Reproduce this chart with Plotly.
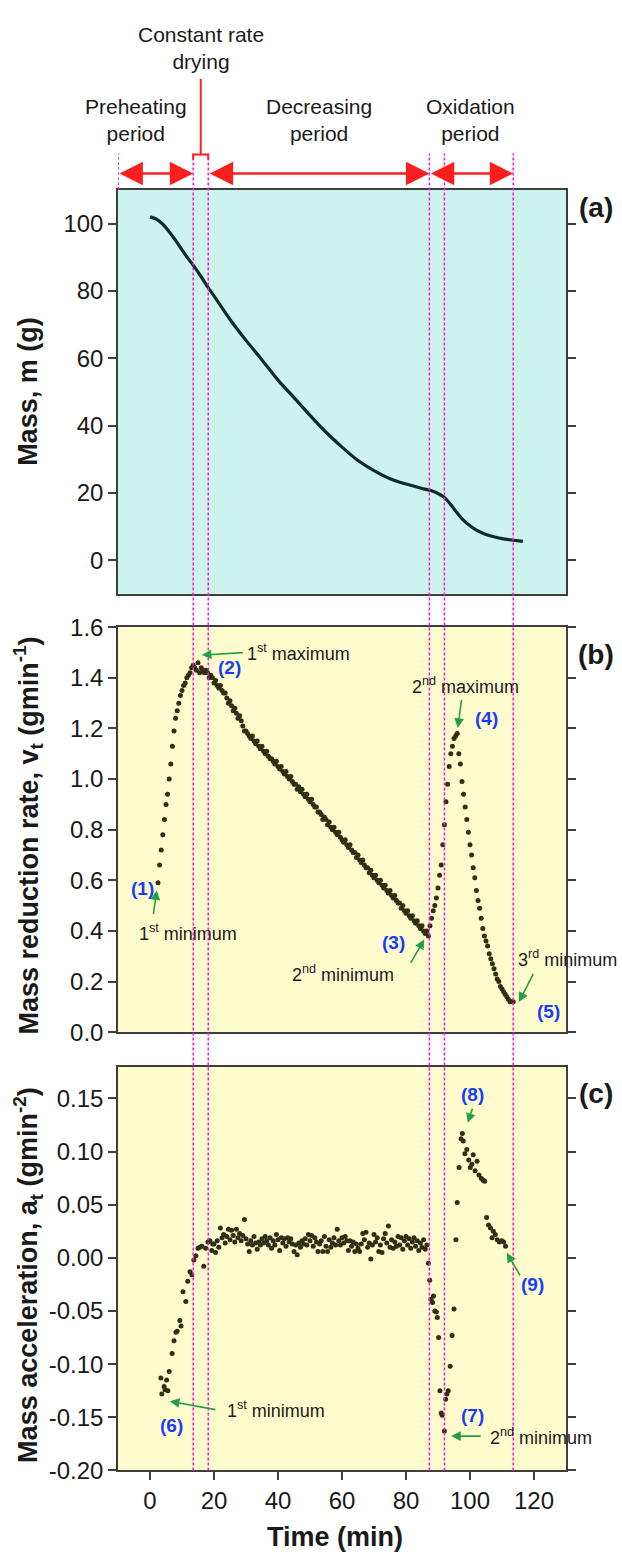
import plotly.graph_objects as go

# ---------------- data ----------------
# (a) sample mass during the run
mass_time = [0, 2, 4, 6, 8, 10, 12, 14, 16, 18, 20, 25, 30, 35, 40, 45, 50, 55, 60,
             65, 70, 75, 80, 85, 88, 90, 92, 94, 96, 98, 100, 102, 104, 106, 108,
             110, 113, 116.5]
mass_value = [102.0, 101.3, 99.8, 97.6, 95.0, 92.2, 89.5, 87.0, 84.2, 81.2, 78.5,
              71.5, 65.3, 59.5, 53.5, 48.3, 43.0, 38.0, 33.6, 29.6, 26.6, 24.2,
              22.6, 21.3, 20.6, 19.8, 18.6, 16.5, 14.0, 11.8, 10.2, 8.9, 8.0, 7.3,
              6.8, 6.4, 6.0, 5.6]

# (b) mass reduction rate
rate_time = [
    2.5, 3.0, 3.5, 4.0, 4.5, 5.0, 5.5, 6.0, 6.5, 7.0,
    7.5, 8.0, 8.5, 9.0, 9.5, 10.0, 10.5, 11.0, 11.5, 12.0,
    12.5, 13.0, 13.5, 14.0, 14.5, 15.0, 15.5, 16.0, 16.5, 17.0,
    17.5,
    18.0, 18.5, 19.0, 19.5, 20.0, 20.5, 21.0, 21.5, 22.0, 22.5,
    23.0, 23.5, 24.0, 24.5, 25.0, 25.5, 26.0, 26.5, 27.0, 27.5,
    28.0, 28.5, 29.0, 29.5, 30.0, 30.5, 31.0, 31.5, 32.0, 32.5,
    33.0, 33.5, 34.0, 34.5, 35.0, 35.5, 36.0, 36.5, 37.0, 37.5,
    38.0, 38.5, 39.0, 39.5, 40.0, 40.5, 41.0, 41.5, 42.0, 42.5,
    43.0, 43.5, 44.0, 44.5, 45.0, 45.5, 46.0, 46.5, 47.0, 47.5,
    48.0, 48.5, 49.0, 49.5, 50.0, 50.5, 51.0, 51.5, 52.0, 52.5,
    53.0, 53.5, 54.0, 54.5, 55.0, 55.5, 56.0, 56.5, 57.0, 57.5,
    58.0, 58.5, 59.0, 59.5, 60.0, 60.5, 61.0, 61.5, 62.0, 62.5,
    63.0, 63.5, 64.0, 64.5, 65.0, 65.5, 66.0, 66.5, 67.0, 67.5,
    68.0, 68.5, 69.0, 69.5, 70.0, 70.5, 71.0, 71.5, 72.0, 72.5,
    73.0, 73.5, 74.0, 74.5, 75.0, 75.5, 76.0, 76.5, 77.0, 77.5,
    78.0, 78.5, 79.0, 79.5, 80.0, 80.5, 81.0, 81.5, 82.0, 82.5,
    83.0, 83.5, 84.0, 84.5, 85.0, 85.5, 86.0, 86.5, 87.0,
    87.5, 88.0, 88.5, 89.0, 89.5, 90.0, 90.5, 91.0, 91.5, 92.0,
    92.5, 93.0, 93.5, 94.0, 94.5, 95.0, 95.5, 96.0,
    96.5, 97.0, 97.5, 98.0, 98.5, 99.0, 99.5, 100.0, 100.5, 101.0,
    101.5, 102.0, 102.5, 103.0, 103.5, 104.0, 104.5, 105.0, 105.5, 106.0,
    106.5, 107.0, 107.5, 108.0, 108.5, 109.0, 109.5, 110.0, 110.5, 111.0,
    111.5, 112.0, 112.5, 113.0, 113.5,
]
rate_value = [
    0.59, 0.66, 0.72, 0.78, 0.84, 0.90, 0.94, 1.00, 1.06, 1.13,
    1.19, 1.24, 1.27, 1.30, 1.33, 1.35, 1.37, 1.38, 1.40, 1.41,
    1.42, 1.44, 1.45, 1.44, 1.43, 1.46, 1.42, 1.44, 1.43, 1.42,
    1.43,
    1.42, 1.40, 1.41, 1.40, 1.38, 1.39, 1.37, 1.36, 1.37, 1.35,
    1.34, 1.34, 1.32, 1.30, 1.31, 1.29, 1.27, 1.28, 1.26, 1.24,
    1.25, 1.23, 1.21, 1.19, 1.19, 1.18, 1.17, 1.16, 1.17, 1.15,
    1.14, 1.15, 1.13, 1.12, 1.13, 1.11, 1.10, 1.11, 1.09, 1.08,
    1.08, 1.07, 1.06, 1.07, 1.05, 1.04, 1.05, 1.03, 1.02, 1.03,
    1.01, 1.00, 1.01, 0.99, 0.98, 0.98, 0.96, 0.97, 0.95, 0.96,
    0.94, 0.93, 0.94, 0.92, 0.91, 0.92, 0.90, 0.89, 0.89, 0.87,
    0.87, 0.86, 0.84, 0.85, 0.84, 0.82, 0.83, 0.81, 0.80, 0.81,
    0.79, 0.78, 0.79, 0.77, 0.76, 0.75, 0.76, 0.74, 0.73, 0.74,
    0.72, 0.71, 0.71, 0.69, 0.70, 0.68, 0.67, 0.68, 0.66, 0.65,
    0.65, 0.63, 0.64, 0.62, 0.61, 0.62, 0.60, 0.59, 0.60, 0.58,
    0.57, 0.58, 0.56, 0.55, 0.56, 0.54, 0.53, 0.54, 0.52, 0.51,
    0.51, 0.49, 0.50, 0.48, 0.47, 0.48, 0.46, 0.45, 0.46, 0.44,
    0.43, 0.44, 0.42, 0.41, 0.42, 0.40, 0.39, 0.40, 0.38,
    0.42, 0.45, 0.48, 0.50, 0.53, 0.57, 0.62, 0.66, 0.74, 0.82,
    0.91, 0.98, 1.05, 1.10, 1.13, 1.16, 1.17, 1.18,
    1.10, 1.06, 0.99, 0.94, 0.89, 0.84, 0.79, 0.74, 0.70, 0.65,
    0.61, 0.56, 0.52, 0.49, 0.45, 0.41, 0.38, 0.36, 0.34, 0.31,
    0.29, 0.27, 0.25, 0.23, 0.21, 0.20, 0.18, 0.17, 0.16, 0.15,
    0.14, 0.13, 0.12, 0.12, 0.12,
]

# (c) mass acceleration
accel_time = [
    3.4, 3.7, 4.4, 4.7, 5.2, 5.6, 6.0, 6.9, 7.5, 8.1,
    8.5, 9.3, 9.7, 10.3, 11.2, 11.8, 12.5, 13.1, 13.7, 14.3,
    15.0, 15.6, 16.2, 16.8, 17.4, 18.1, 18.7, 19.3, 19.6,
    20.0, 20.5, 21.0, 21.5, 22.0, 22.5, 23.0, 23.5, 24.0, 24.5,
    25.0, 25.5, 26.0, 26.5, 27.0, 27.5, 28.0, 28.5, 29.0, 29.5,
    30.0, 30.5, 31.0, 31.5, 32.0, 32.5, 33.0, 33.5, 34.0, 34.5,
    35.0, 35.5, 36.0, 36.5, 37.0, 37.5, 38.0, 38.5, 39.0, 39.5,
    40.0, 40.5, 41.0, 41.5, 42.0, 42.5, 43.0, 43.5, 44.0, 44.5,
    45.0, 45.5, 46.0, 46.5, 47.0, 47.5, 48.0, 48.5, 49.0, 49.5,
    50.0, 50.5, 51.0, 51.5, 52.0, 52.5, 53.0, 53.5, 54.0, 54.5,
    55.0, 55.5, 56.0, 56.5, 57.0, 57.5, 58.0, 58.5, 59.0, 59.5,
    60.0, 60.5, 61.0, 61.5, 62.0, 62.5, 63.0, 63.5, 64.0, 64.5,
    65.0, 65.5, 66.0, 66.5, 67.0, 67.5, 68.0, 68.5, 69.0, 69.5,
    70.0, 70.5, 71.0, 71.5, 72.0, 72.5, 73.0, 73.5, 74.0, 74.5,
    75.0, 75.5, 76.0, 76.5, 77.0, 77.5, 78.0, 78.5, 79.0, 79.5,
    80.0, 80.5, 81.0, 81.5, 82.0, 82.5, 83.0, 83.5, 84.0, 84.5,
    85.0, 85.5, 86.0, 86.5,
    87.0, 87.4, 87.8, 88.3, 88.6, 89.0, 89.5, 89.8, 90.2, 90.6,
    91.0, 91.3, 92.0, 92.4, 92.8, 93.2, 93.8, 94.4, 95.0, 95.6,
    96.0, 96.6, 97.2, 97.6, 97.9, 98.4, 99.0, 99.6, 100.1, 100.6,
    101.0, 101.6, 102.2, 102.8, 103.5, 104.1, 104.6, 105.2, 105.8, 106.4,
    106.9, 107.3, 107.9, 108.5, 109.2, 109.9, 110.5, 111.1,
]
accel_value = [
    -0.113, -0.128, -0.121, -0.124, -0.115, -0.125, -0.107, -0.090, -0.078, -0.070,
    -0.069, -0.059, -0.064, -0.032, -0.041, -0.022, -0.013, -0.016, -0.002, 0.002,
    0.009, 0.010, 0.011, -0.008, 0.009, 0.015, 0.016, 0.007, 0.013,
    0.013, 0.005, 0.016, 0.010, 0.028, 0.019, 0.022, 0.014, 0.020, 0.027,
    0.017, 0.026, 0.021, 0.015, 0.027, 0.019, 0.023, 0.016, 0.021, 0.036,
    0.018, 0.013, 0.006, 0.016, 0.012, 0.020, 0.014, 0.008, 0.015, 0.012,
    0.018, 0.014, 0.020, 0.016, 0.012, 0.019, 0.009, 0.016, 0.012, 0.022,
    0.017, 0.007, 0.019, 0.014, 0.018, 0.011, 0.019, 0.015, 0.018, 0.013,
    0.006, 0.012, 0.003, 0.014, 0.010, 0.016, 0.013, 0.018, 0.012, 0.022,
    0.016, 0.021, 0.011, 0.019, 0.015, 0.006, 0.013, 0.016, 0.006, 0.020,
    0.011, 0.006, 0.017, 0.010, 0.014, 0.019, 0.012, 0.027, 0.016, 0.012,
    0.019, 0.014, 0.020, 0.016, 0.007, 0.016, 0.011, 0.015, 0.006, 0.013,
    0.009, 0.006, 0.013, 0.023, 0.017, 0.024, 0.010, 0.014, -0.001, 0.012,
    0.022, 0.015, 0.019, 0.006, 0.012, 0.005, 0.018, 0.023, 0.014, 0.030,
    0.010, 0.017, 0.009, 0.015, 0.011, 0.020, 0.012, 0.019, 0.008, 0.016,
    0.020, 0.012, 0.018, 0.009, 0.015, 0.019, 0.011, 0.016, 0.007, 0.014,
    0.010, 0.017, 0.008, 0.012,
    -0.005, -0.021, -0.039, -0.042, -0.036, -0.050, -0.051, -0.056, -0.075, -0.125,
    -0.146, -0.148, -0.163, -0.133, -0.128, -0.125, -0.102, -0.073, -0.048, 0.017,
    0.052, 0.085, 0.112, 0.117, 0.110, 0.098, 0.102, 0.092, 0.085, 0.088,
    0.097, 0.082, 0.091, 0.078, 0.075, 0.073, 0.072, 0.038, 0.031, 0.028,
    0.019, 0.025, 0.022, 0.017, 0.015, 0.016, 0.015, 0.011,
]

# boundaries between drying stages (min)
stage_bounds = [13.5, 18.2, 87.3, 92.0, 113.5]
time_start = -10

# axis ticks
time_ticks = [0, 20, 40, 60, 80, 100, 120]
mass_ticks = [0, 20, 40, 60, 80, 100]
rate_ticks = [0.0, 0.2, 0.4, 0.6, 0.8, 1.0, 1.2, 1.4, 1.6]
rate_tick_text = ["0.0", "0.2", "0.4", "0.6", "0.8", "1.0", "1.2", "1.4", "1.6"]
accel_ticks = [-0.20, -0.15, -0.10, -0.05, 0.00, 0.05, 0.10, 0.15]
accel_tick_text = ["-0.20", "-0.15", "-0.10", "-0.05", "0.00", "0.05", "0.10", "0.15"]

assert len(rate_time) == len(rate_value)
assert len(accel_time) == len(accel_value)

# ---------------- styling ----------------
W, H = 622, 1566
FONT = "Liberation Sans, Arial, sans-serif"
FRAME = "#3d3d3d"
DOT = "#2f2f14"
MAGENTA = "#ff14e6"
RED = "#ff1e1e"
GREEN = "#22a044"
BLUE = "#1a3cff"
TXT = "#1a1a1a"


def py(px):
    """Paper y coordinate for a pixel row measured from the top."""
    return 1 - px / H


x_dom = [118 / W, 566 / W]
dom_a = [py(590), py(179)]
dom_b = [py(1036), py(624)]
dom_c = [py(1482), py(1071)]

fig = go.Figure()

fig.add_trace(go.Scatter(
    x=mass_time, y=mass_value, mode="lines", xaxis="x", yaxis="y",
    line=dict(color="#0f2b29", width=3.2, shape="spline", smoothing=0.8),
    showlegend=False, hoverinfo="skip"))
fig.add_trace(go.Scatter(
    x=rate_time, y=rate_value, mode="markers", xaxis="x2", yaxis="y2",
    marker=dict(color=DOT, size=5), showlegend=False, hoverinfo="skip"))
fig.add_trace(go.Scatter(
    x=accel_time, y=accel_value, mode="markers", xaxis="x3", yaxis="y3",
    marker=dict(color=DOT, size=5), showlegend=False, hoverinfo="skip"))

tickfont = dict(family=FONT, size=24, color=TXT)
xcommon = dict(domain=x_dom, range=[-10, 130], showgrid=False, zeroline=False,
               showline=True, linecolor=FRAME, linewidth=1.5, mirror=True)
ycommon = dict(showgrid=False, zeroline=False, showline=True, linecolor=FRAME,
               linewidth=1.5, mirror="ticks", ticks="outside", ticklen=8,
               tickwidth=1.5, tickcolor=FRAME, tickfont=tickfont)
yinner = dict(showgrid=False, zeroline=False, showline=False, mirror="ticks",
              ticks="inside", ticklen=8, tickwidth=1.5, tickcolor=FRAME,
              showticklabels=False)

fig.update_layout(
    width=W, height=H, margin=dict(l=0, r=0, t=0, b=0),
    paper_bgcolor="white", plot_bgcolor="rgba(0,0,0,0)",
    font=dict(family=FONT, color=TXT),
    xaxis=dict(**xcommon, anchor="y", showticklabels=False, ticks=""),
    xaxis2=dict(**xcommon, anchor="y2", showticklabels=False, ticks=""),
    xaxis3=dict(**xcommon, anchor="y3", tickvals=time_ticks, ticks="outside",
                ticklen=8, tickwidth=1.5, tickcolor=FRAME, tickfont=tickfont),
    xaxis4=dict(domain=x_dom, range=[-10, 130], overlaying="x3", anchor="y3",
                side="bottom", tickvals=time_ticks, ticks="inside", ticklen=8,
                tickwidth=1.5, tickcolor=FRAME, showticklabels=False,
                showgrid=False, zeroline=False, showline=False),
    yaxis=dict(**ycommon, domain=dom_a, anchor="x", range=[-10, 110],
               tickvals=mass_ticks),
    yaxis2=dict(**ycommon, domain=dom_b, anchor="x2", range=[0, 1.6],
                tickvals=rate_ticks, ticktext=rate_tick_text),
    yaxis3=dict(**ycommon, domain=dom_c, anchor="x3", range=[-0.2, 0.18],
                tickvals=accel_ticks, ticktext=accel_tick_text),
    yaxis4=dict(**yinner, overlaying="y", anchor="x", range=[-10, 110],
                tickvals=mass_ticks),
    yaxis5=dict(**yinner, overlaying="y2", anchor="x2", range=[0, 1.6],
                tickvals=rate_ticks),
    yaxis6=dict(**yinner, overlaying="y3", anchor="x3", range=[-0.2, 0.18],
                tickvals=accel_ticks),
)

shapes = []
# panel backgrounds
for ax, col in (("", "#cdf3ef"), ("2", "#fefccd"), ("3", "#fefccd")):
    shapes.append(dict(type="rect", xref=f"x{ax} domain", yref=f"y{ax} domain",
                       x0=0, x1=1, y0=0, y1=1, fillcolor=col, line_width=0,
                       layer="below"))
# stage boundaries
shapes.append(dict(type="line", xref="x", yref="paper", x0=time_start, x1=time_start,
                   y0=py(179), y1=py(142),
                   line=dict(color=MAGENTA, width=1.5, dash="3px,2px")))
for tb in stage_bounds:
    shapes.append(dict(type="line", xref="x", yref="paper", x0=tb, x1=tb,
                       y0=py(1482), y1=py(142), layer="above",
                       line=dict(color=MAGENTA, width=1.5, dash="3px,2px")))
# bracket for the constant rate stage
t0, t1 = stage_bounds[0], stage_bounds[1]
tm = (t0 + t1) / 2
shapes.append(dict(type="path", xref="x", yref="paper",
                   path=f"M {t0},{py(148)} L {t0},{py(143)} L {t1},{py(143)} L {t1},{py(148)}",
                   line=dict(color=RED, width=2)))
shapes.append(dict(type="line", xref="x", yref="paper", x0=tm, x1=tm,
                   y0=py(143), y1=py(66), line=dict(color=RED, width=2)))
fig.update_layout(shapes=shapes)

ann = []
# double-headed stage arrows above panel (a)
for a0, a1 in ((time_start, stage_bounds[0]), (stage_bounds[1], stage_bounds[2]),
               (stage_bounds[2], stage_bounds[4])):
    ann.append(dict(xref="x", yref="paper", axref="x", ayref="pixel",
                    x=a1, y=py(162.3), ax=a0, ay=0, text="", showarrow=True,
                    arrowhead=2, arrowside="end+start", arrowsize=1.8,
                    arrowwidth=2.6, arrowcolor=RED, standoff=0, startstandoff=0))

stage_font = dict(family=FONT, size=21, color=TXT)
for txt, xt in (("Preheating<br>period", -4.5), ("Decreasing<br>period", 52.8),
                ("Oxidation<br>period", 100.3)):
    ann.append(dict(xref="x", yref="paper", x=xt, y=py(107.5), text=txt,
                    showarrow=False, font=stage_font, xanchor="center",
                    yanchor="middle"))
ann.append(dict(xref="x", yref="paper", x=tm, y=py(34.5),
                text="Constant rate<br>drying", showarrow=False, font=stage_font,
                xanchor="center", yanchor="middle"))

# axis titles
title_font = dict(family=FONT, size=27, color=TXT, weight="bold")
for txt, yc in (("Mass, m (g)", 384.5),
                ("Mass reduction rate, v<sub>t</sub> (gmin<sup>-1</sup>)", 836),
                ("Mass acceleration, a<sub>t</sub> (gmin<sup>-2</sup>)", 1283)):
    ann.append(dict(xref="paper", yref="paper", x=28 / W, y=py(yc), text=txt,
                    textangle=-90, showarrow=False, font=title_font,
                    xanchor="center", yanchor="middle"))
ann.append(dict(xref="paper", yref="paper", x=335 / W, y=py(1550),
                text="Time (min)", showarrow=False, font=title_font,
                xanchor="center", yanchor="middle"))

# panel letters
for txt, yc in (("(a)", 197), ("(b)", 652), ("(c)", 1098)):
    ann.append(dict(xref="paper", yref="paper", x=596 / W, y=py(yc), text=txt,
                    showarrow=False, xanchor="center", yanchor="middle",
                    font=dict(family=FONT, size=28, color=TXT, weight="bold")))

lab_font = dict(family=FONT, size=18, color=TXT)
num_font = dict(family=FONT, size=19, color=BLUE, weight="bold")


def label(xa, ya, x, y, text, font, anchor="center"):
    ann.append(dict(xref=xa, yref=ya, x=x, y=y, text=text, showarrow=False,
                    font=font, xanchor=anchor, yanchor="middle"))


def pointer(xa, ya, x, y, ax, ay):
    ann.append(dict(xref=xa, yref=ya, axref=xa, ayref=ya, x=x, y=y, ax=ax, ay=ay,
                    text="", showarrow=True, arrowhead=2, arrowsize=1.2,
                    arrowwidth=1.6, arrowcolor=GREEN, standoff=0))


# panel (b) callouts
label("x2", "y2", -2.5, 0.567, "(1)", num_font)
pointer("x2", "y2", 2.1, 0.56, 1.0, 0.46)
label("x2", "y2", 11.8, 0.392, "1<sup>st</sup> minimum", lab_font)
label("x2", "y2", 24.7, 1.442, "(2)", num_font)
pointer("x2", "y2", 16.2, 1.49, 29.5, 1.50)
label("x2", "y2", 46.5, 1.50, "1<sup>st</sup> maximum", lab_font)
label("x2", "y2", 76.0, 0.353, "(3)", num_font)
pointer("x2", "y2", 85.7, 0.366, 81.2, 0.268)
label("x2", "y2", 60.4, 0.232, "2<sup>nd</sup> minimum", lab_font)
label("x2", "y2", 98.7, 1.37, "2<sup>nd</sup> maximum", lab_font)
pointer("x2", "y2", 96.2, 1.202, 97.4, 1.319)
label("x2", "y2", 105.3, 1.241, "(4)", num_font)
label("x2", "y2", 114.4, 0.29, "3<sup>rd</sup> minimum", lab_font, anchor="left")
pointer("x2", "y2", 115.3, 0.119, 120.0, 0.236)
label("x2", "y2", 124.6, 0.08, "(5)", num_font)

# panel (c) callouts
label("x3", "y3", 6.6, -0.158, "(6)", num_font)
pointer("x3", "y3", 6.2, -0.135, 20.9, -0.143)
label("x3", "y3", 39.3, -0.143, "1<sup>st</sup> minimum", lab_font)
label("x3", "y3", 100.7, -0.1486, "(7)", num_font)
pointer("x3", "y3", 94.1, -0.1677, 103.8, -0.1677)
label("x3", "y3", 122.1, -0.1677, "2<sup>nd</sup> minimum", lab_font)
label("x3", "y3", 100.9, 0.1537, "(8)", num_font)
pointer("x3", "y3", 99.3, 0.127, 100.9, 0.142)
label("x3", "y3", 119.6, -0.0248, "(9)", num_font)
pointer("x3", "y3", 111.5, 0.0047, 115.9, -0.0178)

fig.update_layout(annotations=ann)

fig.write_html("out.html")
